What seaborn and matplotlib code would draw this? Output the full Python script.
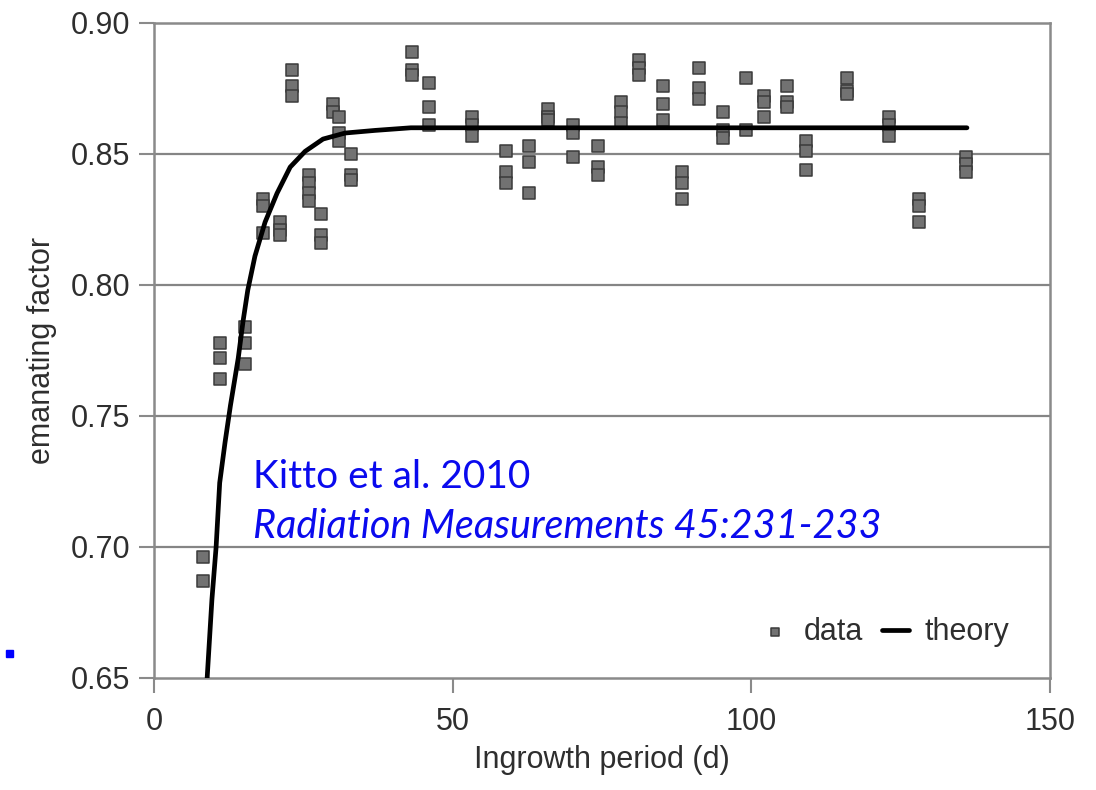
""" Emanating factor vs ingrowth period (Kitto et al. 2010).
    Data read off the published figure.
"""

import seaborn as sns
import matplotlib.pyplot as plt
from matplotlib.patches import Rectangle
import pandas as pd

# Measured points (replicates share the same ingrowth day)
ingrowth_days = [8.2, 8.2,
                 11.0, 11.0, 11.0,
                 15.2, 15.2, 15.2,
                 18.2, 18.2, 18.2,
                 21.1, 21.1, 21.1,
                 23.1, 23.1, 23.1,
                 26.0, 26.0, 26.0, 26.0,
                 28.0, 28.0, 28.0,
                 30.0, 30.0,
                 31.0, 31.0, 31.0,
                 33.0, 33.0, 33.0,
                 43.2, 43.2, 43.2,
                 46.0, 46.0, 46.0,
                 53.2, 53.2, 53.2,
                 58.9, 58.9, 58.9,
                 62.8, 62.8, 62.8,
                 66.0, 66.0, 66.0,
                 70.1, 70.1, 70.1,
                 74.3, 74.3, 74.3,
                 78.2, 78.2, 78.2,
                 81.2, 81.2, 81.2,
                 85.2, 85.2, 85.2,
                 88.4, 88.4, 88.4,
                 91.2, 91.2, 91.2,
                 95.3, 95.3, 95.3,
                 99.1, 99.1,
                 102.1, 102.1, 102.1,
                 106.0, 106.0, 106.0,
                 109.2, 109.2, 109.2,
                 116.0, 116.0, 116.0,
                 123.1, 123.1, 123.1,
                 128.1, 128.1, 128.1,
                 135.9, 135.9, 135.9]

emanating_factor = [0.696, 0.687,
                    0.778, 0.772, 0.764,
                    0.784, 0.778, 0.770,
                    0.833, 0.830, 0.820,
                    0.824, 0.821, 0.819,
                    0.882, 0.876, 0.872,
                    0.842, 0.839, 0.835, 0.832,
                    0.827, 0.819, 0.816,
                    0.869, 0.866,
                    0.864, 0.858, 0.855,
                    0.850, 0.842, 0.840,
                    0.889, 0.882, 0.880,
                    0.877, 0.868, 0.861,
                    0.864, 0.861, 0.857,
                    0.851, 0.843, 0.839,
                    0.853, 0.847, 0.835,
                    0.867, 0.864, 0.863,
                    0.861, 0.858, 0.849,
                    0.853, 0.845, 0.842,
                    0.870, 0.866, 0.862,
                    0.886, 0.883, 0.880,
                    0.876, 0.869, 0.863,
                    0.843, 0.839, 0.833,
                    0.883, 0.875, 0.871,
                    0.866, 0.859, 0.856,
                    0.879, 0.859,
                    0.872, 0.870, 0.864,
                    0.876, 0.870, 0.868,
                    0.855, 0.851, 0.844,
                    0.879, 0.874, 0.873,
                    0.864, 0.861, 0.857,
                    0.833, 0.830, 0.824,
                    0.849, 0.846, 0.843]

# Theory curve
theory_days = [8.9, 9.7, 10.4, 11.0, 11.9, 12.8, 14.1, 14.9, 15.7, 16.9,
               18.6, 20.6, 22.8, 25.3, 28.3, 32.0, 37.0, 43.0, 136.1]
theory_factor = [0.650, 0.680, 0.700, 0.7245, 0.740, 0.754, 0.772, 0.786, 0.798, 0.811,
                 0.824, 0.835, 0.845, 0.851, 0.8557, 0.858, 0.859, 0.860, 0.860]

x_ticks = [0, 50, 100, 150]
x_minor = [25, 75, 125]
y_ticks = [0.65, 0.70, 0.75, 0.80, 0.85, 0.90]

data = pd.DataFrame({'days': ingrowth_days, 'factor': emanating_factor})
theory = pd.DataFrame({'days': theory_days, 'factor': theory_factor})

sns.set_style('white')
plt.rcParams['font.family'] = ['Liberation Sans', 'DejaVu Sans']

fig = plt.figure(figsize=(10.96, 7.90), dpi=100)
ax = fig.add_axes([0.1405, 0.1418, 0.8175, 0.8291])

gray = '#8a8a8a'

for y in y_ticks[1:-1]:
    ax.axhline(y, color='#858585', lw=1.6, zorder=1)

sns.scatterplot(data=data, x='days', y='factor', marker='s', s=80,
                color='#727272', edgecolor='#3a3a3a', linewidth=1.1,
                label='data', ax=ax, zorder=3)
sns.lineplot(data=theory, x='days', y='factor', color='black', linewidth=3.4,
             estimator=None, sort=False, label='theory', ax=ax, zorder=4)

ax.set_xlim(0, 150)
ax.set_ylim(0.65, 0.90)
ax.set_xticks(x_ticks)
ax.set_xticks(x_minor, minor=True)
ax.set_yticks(y_ticks)
ax.set_xticklabels([str(t) for t in x_ticks])
ax.set_yticklabels([f'{t:.2f}' for t in y_ticks])

for side in ['left', 'right', 'top', 'bottom']:
    ax.spines[side].set_color(gray)
    ax.spines[side].set_linewidth(1.8)

ax.tick_params(axis='both', which='major', direction='out', length=11, width=1.5,
               color=gray, labelsize=22, labelcolor='#2e2e2e', pad=6)
ax.tick_params(axis='x', which='minor', direction='out', length=4, width=1.5, color=gray)
ax.tick_params(axis='x', which='major', pad=10)
ax.tick_params(left=True, bottom=True)

ax.set_xlabel('Ingrowth period (d)', fontsize=22, color='#2e2e2e', labelpad=6)
ax.set_ylabel('emanating factor', fontsize=22, color='#2e2e2e', labelpad=10)

leg = ax.legend(loc='lower right', frameon=False, ncol=2, fontsize=22,
                handlelength=0.9, handletextpad=0.5, columnspacing=0.6,
                markerscale=0.6, bbox_to_anchor=(0.985, 0.005))
for t in leg.get_texts():
    t.set_color('#2e2e2e')

# Citation in blue
ax.text(16.6, 0.7225, 'Kitto et al. 2010', color='#0a0aee', fontsize=28,
        family=['Lato', 'DejaVu Sans'], va='baseline', ha='left', zorder=5)
ax.text(16.6, 0.7035, 'Radiation Measurements 45:231-233', color='#0a0aee', fontsize=28.5,
        family=['Lato', 'DejaVu Sans'], style='italic', va='baseline', ha='left', zorder=5)

# small bullet left over from the slide
fig.patches.append(Rectangle((6 / 1096, 1 - 657 / 790), 7 / 1096, 7 / 790,
                             transform=fig.transFigure, color='#0000ff'))

plt.savefig('out.png', dpi=100)
plt.close()
